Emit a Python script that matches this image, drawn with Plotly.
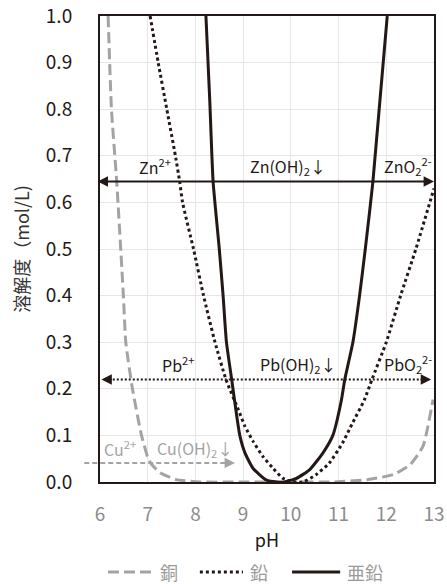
import plotly.graph_objects as go

# ---------------- data ----------------
ZN_PH = [8.22, 8.30, 8.37, 8.50, 8.58, 8.65, 8.76, 8.82, 8.93, 9.04, 9.21, 9.49, 9.70, 9.85,
         10.12, 10.39, 10.67, 10.88, 11.06, 11.13, 11.30, 11.44, 11.56, 11.72, 12.02]
ZN_C = [1.00, 0.82, 0.645, 0.50, 0.40, 0.30, 0.22, 0.175, 0.10, 0.062, 0.029, 0.004, 0.0, 0.0,
        0.008, 0.026, 0.062, 0.10, 0.176, 0.22, 0.30, 0.40, 0.50, 0.645, 1.00]

PB_PH = [7.05, 7.22, 7.40, 7.58, 7.67, 7.73, 7.96, 8.17, 8.41, 8.64, 8.90, 9.04, 9.21, 9.42,
         9.63, 9.83, 10.04, 10.25, 10.52, 10.80, 11.08, 11.29, 11.54, 11.70, 12.00, 12.30,
         12.62, 13.00]
PB_C = [1.00, 0.90, 0.80, 0.70, 0.645, 0.60, 0.50, 0.40, 0.30, 0.22, 0.155, 0.119, 0.087, 0.054,
        0.029, 0.008, 0.0, 0.0, 0.015, 0.040, 0.083, 0.126, 0.176, 0.22, 0.30, 0.40,
        0.50, 0.63]

CU_PH = [6.17, 6.24, 6.35, 6.49, 6.54, 6.68, 6.87, 7.01, 7.08, 7.26, 7.60, 8.10, 9.0, 10.0,
         10.9, 11.6, 12.15, 12.50, 12.77, 12.98]
CU_C = [1.00, 0.80, 0.645, 0.40, 0.30, 0.20, 0.10, 0.05, 0.038, 0.02, 0.005, 0.0, 0.0, 0.0,
        0.0, 0.005, 0.016, 0.037, 0.077, 0.177]

SERIES_NAMES = ["銅", "鉛", "亜鉛"]

# arrows: (pH start, pH end, concentration)
ZN_ARROW = (5.95, 13.0, 0.645)
PB_ARROW = (6.03, 12.94, 0.22)
CU_ARROW = (5.60, 8.83, 0.041)

ZN_LABELS = [("Zn<sup>2+</sup>", 7.15), ("Zn(OH)<sub>2</sub>↓", 9.95), ("ZnO<sub>2</sub><sup>2-</sup>", 12.45)]
PB_LABELS = [("Pb<sup>2+</sup>", 7.64), ("Pb(OH)<sub>2</sub>↓", 10.15), ("PbO<sub>2</sub><sup>2-</sup>", 12.45)]
CU_LABELS = [("Cu<sup>2+</sup>", 6.42), ("Cu(OH)<sub>2</sub>↓", 7.99)]

X_RANGE = [6, 13]
Y_RANGE = [0, 1.0]
X_TICKS = [6, 7, 8, 9, 10, 11, 12, 13]
Y_TICKS = [0.0, 0.1, 0.2, 0.3, 0.4, 0.5, 0.6, 0.7, 0.8, 0.9, 1.0]

# ---------------- styles ----------------
DARK = "#231815"
GRAY = "#a3a3a3"
FONT = "Noto Sans CJK JP"
COLORS = [GRAY, DARK, DARK]
DASHES = ["11px,5px", "3px,3px", "solid"]

fig = go.Figure()
for name, xs, ys, col, dash in zip(SERIES_NAMES, [CU_PH, PB_PH, ZN_PH], [CU_C, PB_C, ZN_C], COLORS, DASHES):
    fig.add_trace(go.Scatter(x=xs, y=ys, mode="lines", name=name, showlegend=False,
                             line=dict(color=col, width=3, dash=dash, shape="spline", smoothing=0.5)))


def to_paper_x(v):
    return (v - X_RANGE[0]) / (X_RANGE[1] - X_RANGE[0])


def to_paper_y(v):
    return (v - Y_RANGE[0]) / (Y_RANGE[1] - Y_RANGE[0])


def add_arrow(arrow, color, width, dash):
    x0, x1, y = arrow
    fig.add_shape(type="line", xref="paper", yref="paper",
                  x0=to_paper_x(x0) + 0.01, x1=to_paper_x(x1) - 0.01,
                  y0=to_paper_y(y), y1=to_paper_y(y),
                  line=dict(color=color, width=width, dash=dash), layer="above")
    for tip, tail in ((x0, x0 + 0.25), (x1, x1 - 0.25)):
        fig.add_annotation(x=tip, y=y, ax=tail, ay=y, xref="x", yref="y", axref="x", ayref="y",
                           text="", showarrow=True, arrowhead=2, arrowsize=1.3,
                           arrowwidth=1.6, arrowcolor=color)


add_arrow(ZN_ARROW, DARK, 2, "solid")
add_arrow(PB_ARROW, DARK, 2.2, "2px,2px")
add_arrow(CU_ARROW, GRAY, 2, "5px,3px")


def add_labels(labels, y, color):
    for txt, xv in labels:
        fig.add_annotation(x=xv, y=y, xref="x", yref="y", text=txt, showarrow=False,
                           yanchor="bottom", yshift=0,
                           font=dict(family=FONT, size=16, color=color))


add_labels(ZN_LABELS, ZN_ARROW[2], DARK)
add_labels(PB_LABELS, PB_ARROW[2], DARK)
add_labels(CU_LABELS, CU_ARROW[2], GRAY)

# ---------------- manual legend (below the x-axis title) ----------------
LEG_Y = -0.193
LEG_ITEMS = [(0.024, 0.159), (0.299, 0.428), (0.575, 0.719)]  # paper x of sample start / end
for (s0, s1), name, col, dash in zip(LEG_ITEMS, SERIES_NAMES, COLORS, DASHES):
    fig.add_shape(type="line", xref="paper", yref="paper", x0=s0, x1=s1, y0=LEG_Y, y1=LEG_Y,
                  line=dict(color=col, width=3, dash=dash))
    fig.add_annotation(x=s1 + 0.015, y=LEG_Y, xref="paper", yref="paper", text=name,
                       showarrow=False, xanchor="left", yanchor="middle",
                       font=dict(family=FONT, size=18, color="#9a9a9a"))

fig.update_layout(
    width=447, height=584,
    margin=dict(l=100, r=13, t=16, b=102),
    paper_bgcolor="white", plot_bgcolor="white",
    font=dict(family=FONT, size=18, color=DARK),
    showlegend=False,
)
fig.update_xaxes(range=X_RANGE, tickvals=X_TICKS, showgrid=True, gridcolor="#e6e6e6", gridwidth=1,
                 showline=True, linecolor=DARK, linewidth=2, mirror=True, zeroline=False,
                 ticks="", ticklabelstandoff=14, automargin=False,
                 tickfont=dict(family=FONT, size=19, color="#8c8c8c"),
                 title=dict(text="pH", font=dict(family=FONT, size=18, color=DARK), standoff=10))
fig.update_yaxes(range=Y_RANGE, tickvals=Y_TICKS, tickformat=".1f", showgrid=True, gridcolor="#e6e6e6",
                 gridwidth=1, showline=True, linecolor=DARK, linewidth=2, mirror=True, zeroline=False,
                 ticks="", ticklabelstandoff=22, automargin=False,
                 tickfont=dict(family=FONT, size=19, color=DARK),
                 title=dict(text="溶解度（mol/L)", font=dict(family=FONT, size=18, color="#333333"), standoff=12))

fig.write_html("out.html", config={"displayModeBar": False},
               post_script="document.body.style.margin='0';")
